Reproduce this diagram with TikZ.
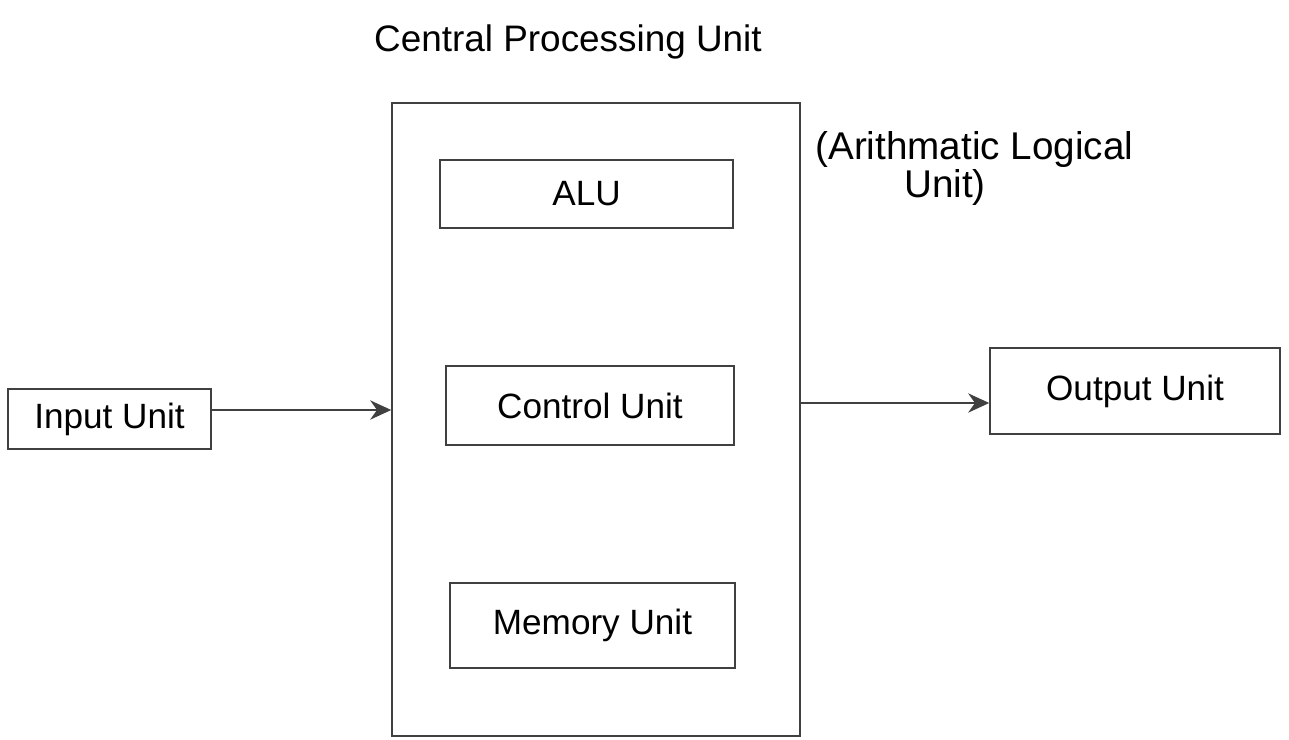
\documentclass[tikz,border=0pt]{standalone}
\usepackage{fontspec}
\setmainfont{Liberation Sans}
\usetikzlibrary{arrows.meta}
\begin{document}
\begin{tikzpicture}[x=0.02cm,y=-0.02cm,
  box/.style={draw=black!75,line width=0.9pt,inner sep=0pt,font=\fontsize{20}{24}\selectfont},
  lbl/.style={font=\fontsize{20}{24}\selectfont,inner sep=0pt},
  conn/.style={draw=black!75,line width=0.9pt,-{Stealth[length=12pt,width=11pt]}}]
\useasboundingbox (0,0) rectangle (1289,740);
\node[lbl,font=\fontsize{21}{25}\selectfont] (title) at (568,42) {Central Processing Unit};
\node[box,minimum width=8.16cm,minimum height=12.66cm] (cpu) at (596,419.5) {};
\node[box,minimum width=5.86cm,minimum height=1.36cm] (alu) at (586.5,194) {ALU};
\node[box,minimum width=5.76cm,minimum height=1.58cm] (cu) at (590,405.5) {Control Unit};
\node[box,minimum width=5.7cm,minimum height=1.7cm] (mu) at (592.5,625.5) {Memory Unit};
\node[box,minimum width=4.06cm,minimum height=1.2cm] (in) at (109.5,419) {Input Unit};
\node[box,minimum width=5.8cm,minimum height=1.72cm] (out) at (1135,391) {Output Unit};
\node[lbl,font=\fontsize{22}{26}\selectfont,anchor=west] (alu1) at (815,150) {(Arithmatic Logical};
\node[lbl,font=\fontsize{22}{26}\selectfont] (alu2) at (945,187) {Unit)};
\coordinate (cpuIn) at (cpu.west |- 0,410);
\coordinate (cpuOut) at (cpu.east |- 0,403);
\draw[conn] (in.east |- cpuIn) -- (cpuIn);
\draw[conn] (cpuOut) -- (out.west |- cpuOut);
\end{tikzpicture}
\end{document}
